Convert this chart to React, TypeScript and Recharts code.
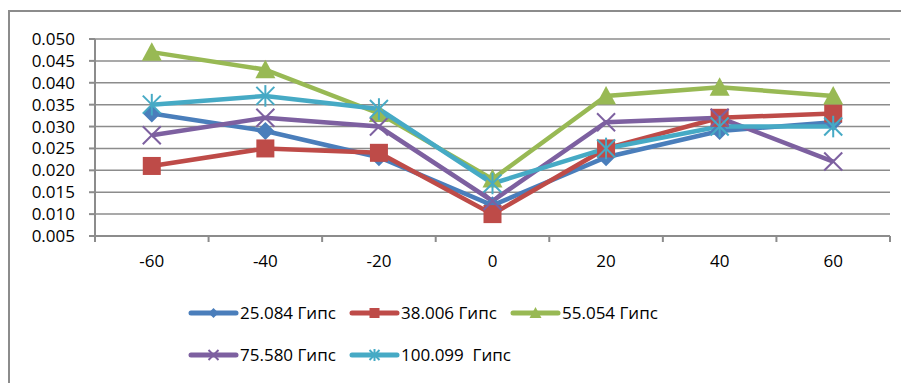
import React from 'react';
import { LineChart, Line, XAxis, YAxis, CartesianGrid } from 'recharts';

// angle positions (category axis in the original)
const ANGLES = [-60, -40, -20, 0, 20, 40, 60];
// tick positions: labels at the angles, tick marks between them
const X_TICKS = [-70, -60, -50, -40, -30, -20, -10, 0, 10, 20, 30, 40, 50, 60, 70];
const Y_TICKS = [0.005, 0.01, 0.015, 0.02, 0.025, 0.03, 0.035, 0.04, 0.045, 0.05];

const S25 = [0.033, 0.029, 0.023, 0.012, 0.023, 0.029, 0.031];
const S38 = [0.021, 0.025, 0.024, 0.010, 0.025, 0.032, 0.033];
const S55 = [0.047, 0.043, 0.033, 0.018, 0.037, 0.039, 0.037];
const S75 = [0.028, 0.032, 0.030, 0.013, 0.031, 0.032, 0.022];
const S100 = [0.035, 0.037, 0.034, 0.017, 0.025, 0.030, 0.030];

const SERIES = [
  { key: 's25', name: '25.084 Гипс', values: S25, color: '#4a7ebb', shape: 'diamond' },
  { key: 's38', name: '38.006 Гипс', values: S38, color: '#be4b48', shape: 'square' },
  { key: 's55', name: '55.054 Гипс', values: S55, color: '#98b954', shape: 'triangle' },
  { key: 's75', name: '75.580 Гипс', values: S75, color: '#7d60a0', shape: 'x' },
  { key: 's100', name: '100.099  Гипс', values: S100, color: '#46aac5', shape: 'star' },
];

const data = ANGLES.map((a, i) => {
  const row: any = { x: a };
  SERIES.forEach(s => { row[s.key] = s.values[i]; });
  return row;
});

const GRID = '#8c8c8c';
const FONT = '"Open Sans", sans-serif';
const FS = 17;

const Marker = ({ cx, cy, shape, color, r }: any) => {
  if (cx == null || cy == null) return null;
  switch (shape) {
    case 'diamond':
      return <polygon points={`${cx},${cy - r} ${cx + r},${cy} ${cx},${cy + r} ${cx - r},${cy}`} fill={color} />;
    case 'square':
      return <rect x={cx - r} y={cy - r} width={r * 2} height={r * 2} fill={color} />;
    case 'triangle':
      return <polygon points={`${cx},${cy - r} ${cx + r},${cy + r * 0.85} ${cx - r},${cy + r * 0.85}`} fill={color} />;
    case 'x':
      return (
        <g stroke={color} strokeWidth={2}>
          <line x1={cx - r} y1={cy - r} x2={cx + r} y2={cy + r} />
          <line x1={cx - r} y1={cy + r} x2={cx + r} y2={cy - r} />
        </g>
      );
    default:
      return (
        <g stroke={color} strokeWidth={2}>
          <line x1={cx - r} y1={cy - r} x2={cx + r} y2={cy + r} />
          <line x1={cx - r} y1={cy + r} x2={cx + r} y2={cy - r} />
          <line x1={cx} y1={cy - r * 1.2} x2={cx} y2={cy + r * 1.2} />
        </g>
      );
  }
};

const XTick = (props: any) => {
  const { x, y, payload } = props;
  const v = payload.value;
  if (ANGLES.includes(v)) {
    return (
      <text x={x} y={y + 18} textAnchor="middle" dominantBaseline="central"
        fontFamily={FONT} fontSize={FS} fill="#000">{v}</text>
    );
  }
  return <line x1={x} y1={y - 6} x2={x} y2={y} stroke={GRID} strokeWidth={2} />;
};

const LegendItem = ({ s }: any) => (
  <div style={{ width: 161, height: 20, display: 'flex', alignItems: 'center' }}>
    <svg width={51} height={16} style={{ flex: 'none' }}>
      <line x1={3} y1={8} x2={48} y2={8} stroke={s.color} strokeWidth={5} strokeLinecap="round" />
      <Marker cx={25.5} cy={8} shape={s.shape} color={s.color} r={s.shape === 'triangle' ? 6 : 5} />
    </svg>
    <span style={{ fontFamily: FONT, fontSize: FS, lineHeight: '20px', whiteSpace: 'pre', marginLeft: 1 }}>{s.name}</span>
  </div>
);

export default function App() {
  return (
    <div style={{ position: 'relative', width: 901, height: 375, overflow: 'hidden' }}>
      <div style={{ position: 'absolute', left: 0, top: 2, width: 1000, height: 1000, border: `2px solid ${GRID}` }} />
      <div style={{ position: 'absolute', left: 0, top: 0 }}>
        <LineChart width={901} height={375} data={data} margin={{ top: 31, right: 19, left: 27, bottom: 0 }}>
          <CartesianGrid vertical={false} stroke={GRID} strokeWidth={1.5} />
          <XAxis dataKey="x" type="number" domain={[-70, 70]} ticks={X_TICKS} interval={0}
            height={147} tickSize={6} tickMargin={0} tickLine={false}
            axisLine={{ stroke: GRID, strokeWidth: 2 }} tick={<XTick />} />
          <YAxis type="number" domain={[0.005, 0.05]} ticks={Y_TICKS} interval={0} width={60}
            tickFormatter={(v: number) => v.toFixed(3)} tickSize={6} tickMargin={14}
            axisLine={{ stroke: GRID, strokeWidth: 2 }} tickLine={{ stroke: GRID, strokeWidth: 2 }}
            tick={{ fontFamily: FONT, fontSize: FS, fill: '#000' }} />
          {SERIES.map(s => (
            <Line key={s.key} dataKey={s.key} name={s.name} stroke={s.color} strokeWidth={4.5}
              isAnimationActive={false}
              dot={(p: any) => <Marker key={`${s.key}-${p.index}`} cx={p.cx} cy={p.cy} shape={s.shape} color={s.color} r={s.shape === 'triangle' ? 10 : 9} />} />
          ))}
        </LineChart>
      </div>
      <div style={{ position: 'absolute', left: 180, top: 295, display: 'flex', flexWrap: 'wrap', width: 483, rowGap: 22 }}>
        {SERIES.map(s => <LegendItem key={s.key} s={s} />)}
      </div>
    </div>
  );
}
